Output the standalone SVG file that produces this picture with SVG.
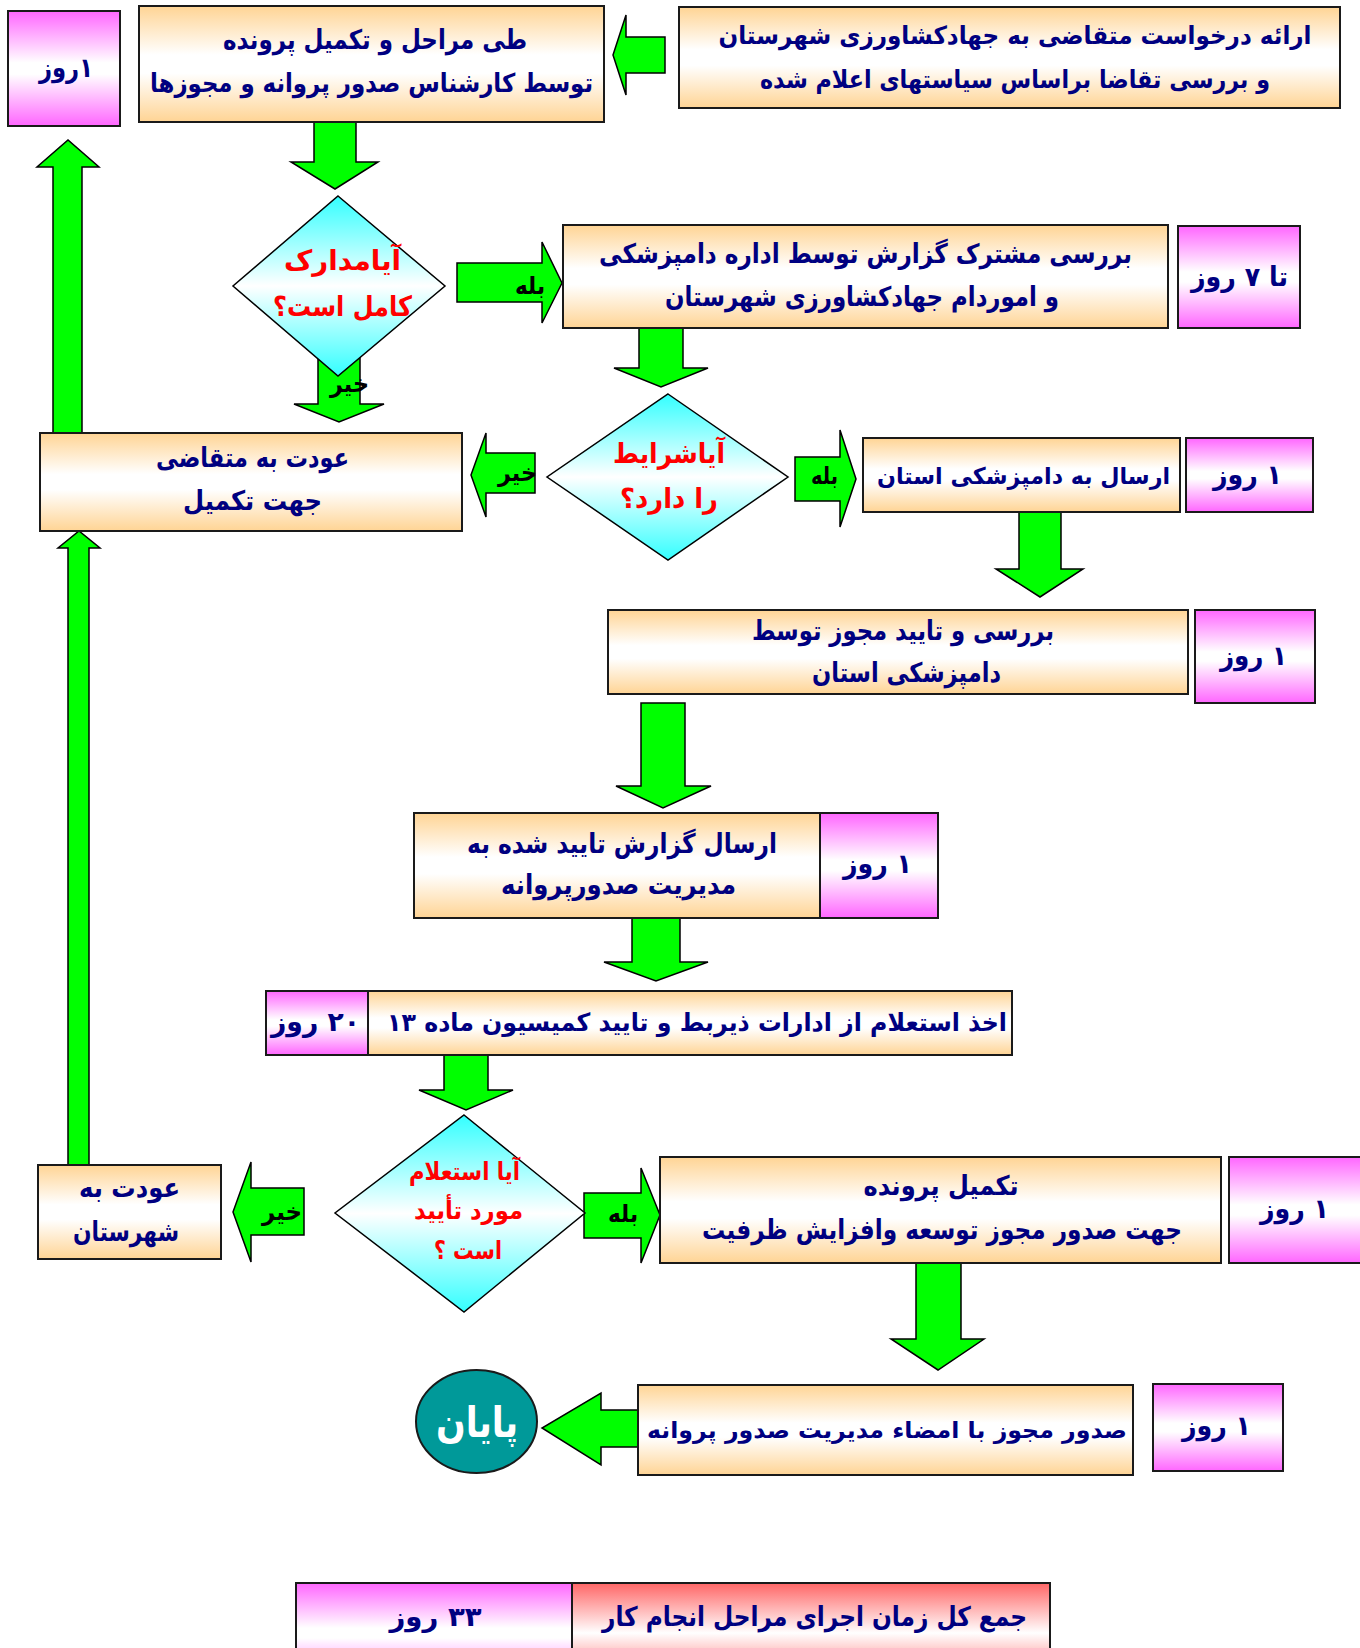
<svg xmlns="http://www.w3.org/2000/svg" width="1360" height="1648" viewBox="0 0 1360 1648">
<defs>
<linearGradient id="gOrange" x1="0" y1="0" x2="0" y2="1">
<stop offset="0" stop-color="#FFD494"/><stop offset="0.42" stop-color="#FFFFFF"/><stop offset="0.58" stop-color="#FFFFFF"/><stop offset="1" stop-color="#FFD494"/>
</linearGradient>
<linearGradient id="gPink" x1="0" y1="0" x2="0" y2="1">
<stop offset="0" stop-color="#FF66FF"/><stop offset="0.45" stop-color="#FFFFFF"/><stop offset="0.55" stop-color="#FFFFFF"/><stop offset="1" stop-color="#FF66FF"/>
</linearGradient>
<linearGradient id="gCyan" x1="0" y1="0" x2="0" y2="1">
<stop offset="0" stop-color="#33FFFF"/><stop offset="0.5" stop-color="#FFFFFF"/><stop offset="1" stop-color="#33FFFF"/>
</linearGradient>
<linearGradient id="gRed" x1="0" y1="0" x2="0" y2="1">
<stop offset="0" stop-color="#FF6666"/><stop offset="0.5" stop-color="#FFFFFF"/><stop offset="1" stop-color="#FF6666"/>
</linearGradient>
<style>
.box{fill:url(#gOrange);stroke:#1a1a1a;stroke-width:2}
.pink{fill:url(#gPink);stroke:#1a1a1a;stroke-width:2}
.red{fill:url(#gRed);stroke:#1a1a1a;stroke-width:2}
.dia{fill:url(#gCyan);stroke:#000;stroke-width:1.5}
.arr{fill:#00FF00;stroke:#000;stroke-width:1.5;stroke-linejoin:miter}
.t{font-family:"DejaVu Sans",sans-serif;font-weight:bold;font-size:27px;fill:#000080;text-anchor:middle;direction:rtl}
.q{fill:#FF0000;font-size:28px}
.lbl{fill:#000;font-size:24px}
.end{fill:#009999;stroke:#1a1a1a;stroke-width:2}
</style>
</defs>
<rect width="1360" height="1648" fill="#FFFFFF"/>

<g id="connectors">
<polygon class="arr" points="665,37 626,37 626,15 613,55 626,95 626,73 665,73"/>
<polygon class="arr" points="314,122 356,122 356,162 378,162 335,189 291,162 314,162"/>
<polygon class="arr" points="318,340 360,340 360,404 384,404 339,422 294,404 318,404"/>
<polygon class="arr" points="457,263 542,263 542,242 562,283 542,323 542,302 457,302"/>
<polygon class="arr" points="639,328 683,328 683,368 708,368 661,387 614,368 639,368"/>
<polygon class="arr" points="535,453 486,453 486,433 471,475 486,517 486,493 535,493"/>
<polygon class="arr" points="795,457 840,457 840,430 856,479 840,527 840,501 795,501"/>
<polygon class="arr" points="1019,512 1061,512 1061,569 1083,569 1040,597 996,569 1019,569"/>
<polygon class="arr" points="641,703 685,703 685,786 711,786 663,808 616,786 641,786"/>
<polygon class="arr" points="632,918 680,918 680,962 708,962 656,981 604,962 632,962"/>
<polygon class="arr" points="444,1055 488,1055 488,1090 513,1090 466,1110 419,1090 444,1090"/>
<polygon class="arr" points="304,1188 251,1188 251,1162 233,1212 251,1262 251,1235 304,1235"/>
<polygon class="arr" points="584,1193 641,1193 641,1168 660,1215 641,1263 641,1238 584,1238"/>
<polygon class="arr" points="916,1263 961,1263 961,1339 984,1339 938,1370 891,1339 916,1339"/>
<polygon class="arr" points="638,1410 601,1410 601,1393 542,1428 601,1465 601,1447 638,1447"/>
<polygon class="arr" points="53,433 53,167 37,167 68,140 99,167 82,167 82,433"/>
<polygon class="arr" points="68,1165 68,548 58,548 79,531 100,548 89,548 89,1165"/>
</g>

<g id="n-request">
<rect class="box" x="679" y="7" width="661" height="101"/>
<text class="t" x="1015" y="44" style="font-size:25px" textLength="593" lengthAdjust="spacingAndGlyphs">ارائه درخواست متقاضی به جهادکشاورزی  شهرستان</text>
<text class="t" x="1015" y="88" style="font-size:25px" textLength="510" lengthAdjust="spacingAndGlyphs">و بررسی تقاضا براساس سیاستهای اعلام شده</text>
</g>
<g id="n-expert">
<rect class="box" x="139" y="6" width="465" height="116"/>
<text class="t" x="375" y="49" textLength="304" lengthAdjust="spacingAndGlyphs">طی مراحل و تکمیل پرونده</text>
<text class="t" x="371.5" y="92" style="font-size:26px" textLength="443" lengthAdjust="spacingAndGlyphs">توسط کارشناس صدور پروانه و مجوزها</text>
</g>
<g id="n-day0">
<rect class="pink" x="8" y="11" width="112" height="115"/>
<text class="t" x="66" y="77" textLength="54" lengthAdjust="spacingAndGlyphs">۱روز</text>
</g>
<g id="n-check1">
<polygon class="dia" points="338,196 445,286 338,376 233,286"/>
<text class="t q" x="342.5" y="270" textLength="117" lengthAdjust="spacingAndGlyphs">آیامدارک</text>
<text class="t q" x="342.5" y="316" textLength="139" lengthAdjust="spacingAndGlyphs">کامل است؟</text>
</g>
<g id="n-joint">
<rect class="box" x="563" y="225" width="605" height="103"/>
<text class="t" x="865.5" y="263" textLength="533" lengthAdjust="spacingAndGlyphs">بررسی مشترک گزارش توسط اداره دامپزشکی</text>
<text class="t" x="862" y="306" textLength="394" lengthAdjust="spacingAndGlyphs">و اموردام جهادکشاورزی شهرستان</text>
</g>
<g id="n-day1">
<rect class="pink" x="1178" y="226" width="122" height="102"/>
<text class="t" x="1239.5" y="286" textLength="97" lengthAdjust="spacingAndGlyphs">تا ۷ روز</text>
</g>
<g id="n-check2">
<polygon class="dia" points="668,394 788,477 668,560 547,477"/>
<text class="t q" x="669" y="463" textLength="112" lengthAdjust="spacingAndGlyphs">آیاشرایط</text>
<text class="t q" x="669" y="508" textLength="98" lengthAdjust="spacingAndGlyphs">را دارد؟</text>
</g>
<g id="n-return1">
<rect class="box" x="40" y="433" width="422" height="98"/>
<text class="t" x="252.5" y="467" textLength="193" lengthAdjust="spacingAndGlyphs">عودت به متقاضی</text>
<text class="t" x="252.5" y="510" textLength="139" lengthAdjust="spacingAndGlyphs">جهت تکمیل</text>
</g>
<g id="n-send">
<rect class="box" x="863" y="438" width="317" height="74"/>
<text class="t" x="1023.5" y="484" style="font-size:23px" textLength="293" lengthAdjust="spacingAndGlyphs">ارسال به دامپزشکی استان</text>
</g>
<g id="n-day2">
<rect class="pink" x="1186" y="438" width="127" height="74"/>
<text class="t" x="1247.5" y="484" textLength="69" lengthAdjust="spacingAndGlyphs">۱ روز</text>
</g>
<g id="n-approve">
<rect class="box" x="608" y="610" width="580" height="84"/>
<text class="t" x="903" y="640" textLength="302" lengthAdjust="spacingAndGlyphs">بررسی و تایید مجوز توسط</text>
<text class="t" x="906.5" y="682" textLength="189" lengthAdjust="spacingAndGlyphs">دامپزشکی استان</text>
</g>
<g id="n-day3">
<rect class="pink" x="1195" y="610" width="120" height="93"/>
<text class="t" x="1253.5" y="665" textLength="67" lengthAdjust="spacingAndGlyphs">۱ روز</text>
</g>
<g id="n-report">
<rect class="box" x="414" y="813" width="406" height="105"/>
<text class="t" x="622" y="853" textLength="310" lengthAdjust="spacingAndGlyphs">ارسال گزارش تایید شده به</text>
<text class="t" x="618.5" y="894" textLength="235" lengthAdjust="spacingAndGlyphs">مدیریت صدورپروانه</text>
</g>
<g id="n-day4">
<rect class="pink" x="820" y="813" width="118" height="105"/>
<text class="t" x="877.5" y="873" textLength="69" lengthAdjust="spacingAndGlyphs">۱ روز</text>
</g>
<g id="n-inquiry">
<rect class="box" x="368" y="991" width="644" height="64"/>
<text class="t" x="697" y="1031" style="font-size:25px" textLength="620" lengthAdjust="spacingAndGlyphs">اخذ استعلام از ادارات ذیربط و تایید کمیسیون ماده ۱۳</text>
</g>
<g id="n-day5">
<rect class="pink" x="266" y="991" width="102" height="64"/>
<text class="t" x="315.5" y="1031" textLength="89" lengthAdjust="spacingAndGlyphs">۲۰ روز</text>
</g>
<g id="n-check3">
<polygon class="dia" points="464,1115 585,1213 464,1312 335,1213"/>
<text class="t q" x="464.5" y="1180" style="font-size:25px" textLength="111" lengthAdjust="spacingAndGlyphs">آیا استعلام</text>
<text class="t q" x="468.5" y="1219" style="font-size:25px" textLength="109" lengthAdjust="spacingAndGlyphs">مورد تأیید</text>
<text class="t q" x="468" y="1259" style="font-size:25px" textLength="68" lengthAdjust="spacingAndGlyphs">است ؟</text>
</g>
<g id="n-return2">
<rect class="box" x="38" y="1165" width="183" height="94"/>
<text class="t" x="129.5" y="1197" textLength="101" lengthAdjust="spacingAndGlyphs">عودت به</text>
<text class="t" x="126" y="1241" textLength="106" lengthAdjust="spacingAndGlyphs">شهرستان</text>
</g>
<g id="n-complete">
<rect class="box" x="660" y="1157" width="561" height="106"/>
<text class="t" x="941" y="1195" textLength="155" lengthAdjust="spacingAndGlyphs">تکمیل پرونده</text>
<text class="t" x="942" y="1239" textLength="480" lengthAdjust="spacingAndGlyphs">جهت صدور مجوز توسعه وافزایش ظرفیت</text>
</g>
<g id="n-day6">
<rect class="pink" x="1229" y="1157" width="140" height="106"/>
<text class="t" x="1294.5" y="1218" textLength="69" lengthAdjust="spacingAndGlyphs">۱ روز</text>
</g>
<g id="n-issue">
<rect class="box" x="638" y="1385" width="495" height="90"/>
<text class="t" x="887" y="1438" style="font-size:23px" textLength="480" lengthAdjust="spacingAndGlyphs">صدور مجوز با امضاء مدیریت صدور پروانه</text>
</g>
<g id="n-day7">
<rect class="pink" x="1153" y="1384" width="130" height="87"/>
<text class="t" x="1216.5" y="1435" textLength="69" lengthAdjust="spacingAndGlyphs">۱ روز</text>
</g>
<g id="n-end">
<ellipse class="end" cx="476.5" cy="1421.5" rx="60.5" ry="51.5"/>
<text class="t" x="477" y="1437" style="fill:#FFFFFF;font-size:42px" textLength="82" lengthAdjust="spacingAndGlyphs">پایان</text>
</g>
<g id="n-total">
<rect class="pink" x="296" y="1583" width="276" height="100"/>
<text class="t" x="435.5" y="1626" textLength="92" lengthAdjust="spacingAndGlyphs">۳۳ روز</text>
<rect class="red" x="572" y="1583" width="478" height="100"/>
<text class="t" x="814.5" y="1626" textLength="425" lengthAdjust="spacingAndGlyphs">جمع کل زمان اجرای مراحل انجام کار</text>
</g>

<g id="labels">
<text class="t lbl" x="530" y="294" textLength="30" lengthAdjust="spacingAndGlyphs">بله</text>
<text class="t lbl" x="349.5" y="392" textLength="39" lengthAdjust="spacingAndGlyphs">خیر</text>
<text class="t lbl" x="517.5" y="481" textLength="39" lengthAdjust="spacingAndGlyphs">خیر</text>
<text class="t lbl" x="824.5" y="484" textLength="27" lengthAdjust="spacingAndGlyphs">بله</text>
<text class="t lbl" x="282" y="1220" textLength="40" lengthAdjust="spacingAndGlyphs">خیر</text>
<text class="t lbl" x="623" y="1222" textLength="30" lengthAdjust="spacingAndGlyphs">بله</text>
</g>
</svg>
